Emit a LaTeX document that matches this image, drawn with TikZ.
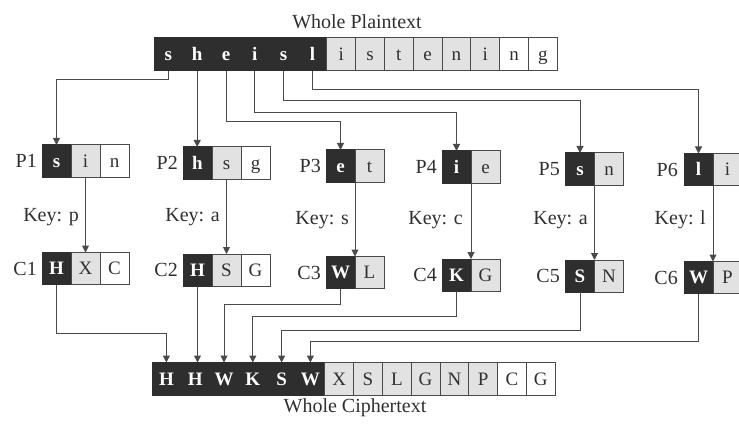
\documentclass[tikz,border=0pt]{standalone}
\usepackage{fontspec}
\setmainfont{Liberation Serif}
\usetikzlibrary{arrows.meta}

\definecolor{cellblack}{HTML}{2E2E2E}
\definecolor{cellgrey}{HTML}{E2E2E2}
\definecolor{linegray}{HTML}{4A4A4A}
\definecolor{inkgray}{HTML}{303030}

\tikzset{
    cellbox/.style={draw=linegray, line width=1pt, minimum width=28.8pt, minimum height=33pt,
        inner sep=0pt, outer sep=0pt, text height=12.6pt, text depth=0pt,
        font=\fontsize{19}{20}\selectfont, text=inkgray},
    darkcell/.style={cellbox, fill=cellblack, draw=cellblack, text=white,
        font=\bfseries\fontsize{19}{20}\selectfont},
    greycell/.style={cellbox, fill=cellgrey},
    whitecell/.style={cellbox, fill=white},
    tag/.style={font=\fontsize{20}{22}\selectfont, text=inkgray, inner sep=0pt},
    link/.style={draw=linegray, line width=1pt, -{Triangle[length=7pt,width=7pt]}}
}

\begin{document}
\begin{tikzpicture}[x=1pt, y=-1pt]
            \useasboundingbox (0,0) rectangle (739,425);

            \node (ptitle) at (357,22) [tag] {Whole Plaintext};
            \node (pt1) at (168.4,54.5) [darkcell] {s};
            \node (pt2) at (197.2,54.5) [darkcell] {h};
            \node (pt3) at (226.0,54.5) [darkcell] {e};
            \node (pt4) at (254.8,54.5) [darkcell] {i};
            \node (pt5) at (283.6,54.5) [darkcell] {s};
            \node (pt6) at (312.4,54.5) [darkcell] {l};
            \node (pt7) at (341.2,54.5) [greycell] {i};
            \node (pt8) at (370.0,54.5) [greycell] {s};
            \node (pt9) at (398.8,54.5) [greycell] {t};
            \node (pt10) at (427.6,54.5) [greycell] {e};
            \node (pt11) at (456.4,54.5) [greycell] {n};
            \node (pt12) at (485.2,54.5) [greycell] {i};
            \node (pt13) at (514.0,54.5) [whitecell] {n};
            \node (pt14) at (542.8,54.5) [whitecell] {g};

            \node (p1a) at (56.5,161) [darkcell, minimum width=29pt, minimum height=32pt] {s};
            \node (p1b) at (85.5,161) [greycell, minimum width=29pt, minimum height=32pt] {i};
            \node (p1c) at (114.5,161) [whitecell, minimum width=29pt, minimum height=32pt] {n};
            \node (lp1) at (37,161) [tag, anchor=east] {P1};
            \node (p2a) at (197.5,163) [darkcell, minimum width=29pt, minimum height=32pt] {h};
            \node (p2b) at (226.5,163) [greycell, minimum width=29pt, minimum height=32pt] {s};
            \node (p2c) at (255.5,163) [whitecell, minimum width=29pt, minimum height=32pt] {g};
            \node (lp2) at (178,163) [tag, anchor=east] {P2};
            \node (p3a) at (340.5,166) [darkcell, minimum width=29pt, minimum height=32pt] {e};
            \node (p3b) at (369.5,166) [greycell, minimum width=29pt, minimum height=32pt] {t};
            \node (lp3) at (321,166) [tag, anchor=east] {P3};
            \node (p4a) at (456.5,167) [darkcell, minimum width=29pt, minimum height=32pt] {i};
            \node (p4b) at (485.5,167) [greycell, minimum width=29pt, minimum height=32pt] {e};
            \node (lp4) at (437,167) [tag, anchor=east] {P4};
            \node (p5a) at (580,169) [darkcell, minimum width=29pt, minimum height=32pt] {s};
            \node (p5b) at (609,169) [greycell, minimum width=29pt, minimum height=32pt] {n};
            \node (lp5) at (560,169) [tag, anchor=east] {P5};
            \node (p6a) at (698.5,169.5) [darkcell, minimum width=29pt, minimum height=32pt] {l};
            \node (p6b) at (727.5,169.5) [greycell, minimum width=29pt, minimum height=32pt] {i};
            \node (lp6) at (678,169.5) [tag, anchor=east] {P6};

            \node (k1) at (79,217) [tag, anchor=east] {Key: p};
            \node (k2) at (220,217) [tag, anchor=east] {Key: a};
            \node (k3) at (349,220) [tag, anchor=east] {Key: s};
            \node (k4) at (463,220) [tag, anchor=east] {Key: c};
            \node (k5) at (588,220) [tag, anchor=east] {Key: a};
            \node (k6) at (706,220) [tag, anchor=east] {Key: l};

            \node (c1a) at (56.5,268.5) [darkcell, minimum width=29pt, minimum height=32pt] {H};
            \node (c1b) at (85.5,268.5) [greycell, minimum width=29pt, minimum height=32pt] {X};
            \node (c1c) at (114.5,268.5) [whitecell, minimum width=29pt, minimum height=32pt] {C};
            \node (lc1) at (37,268.5) [tag, anchor=east] {C1};
            \node (c2a) at (197.5,270) [darkcell, minimum width=29pt, minimum height=32pt] {H};
            \node (c2b) at (226.5,270) [greycell, minimum width=29pt, minimum height=32pt] {S};
            \node (c2c) at (255.5,270) [whitecell, minimum width=29pt, minimum height=32pt] {G};
            \node (lc2) at (178,270) [tag, anchor=east] {C2};
            \node (c3a) at (340.5,272.5) [darkcell, minimum width=29pt, minimum height=32pt] {W};
            \node (c3b) at (369.5,272.5) [greycell, minimum width=29pt, minimum height=32pt] {L};
            \node (lc3) at (321,272.5) [tag, anchor=east] {C3};
            \node (c4a) at (456.5,275) [darkcell, minimum width=29pt, minimum height=32pt] {K};
            \node (c4b) at (485.5,275) [greycell, minimum width=29pt, minimum height=32pt] {G};
            \node (lc4) at (437,275) [tag, anchor=east] {C4};
            \node (c5a) at (580,276) [darkcell, minimum width=29pt, minimum height=32pt] {S};
            \node (c5b) at (609,276) [greycell, minimum width=29pt, minimum height=32pt] {N};
            \node (lc5) at (560,276) [tag, anchor=east] {C5};
            \node (c6a) at (698.5,277.5) [darkcell, minimum width=29pt, minimum height=32pt] {W};
            \node (c6b) at (727.5,277.5) [greycell, minimum width=29pt, minimum height=32pt] {P};
            \node (lc6) at (678,277.5) [tag, anchor=east] {C6};

            \node (ct1) at (166.4,379) [darkcell] {H};
            \node (ct2) at (195.2,379) [darkcell] {H};
            \node (ct3) at (224.0,379) [darkcell] {W};
            \node (ct4) at (252.8,379) [darkcell] {K};
            \node (ct5) at (281.6,379) [darkcell] {S};
            \node (ct6) at (310.4,379) [darkcell] {W};
            \node (ct7) at (339.2,379) [greycell] {X};
            \node (ct8) at (368.0,379) [greycell] {S};
            \node (ct9) at (396.8,379) [greycell] {L};
            \node (ct10) at (425.6,379) [greycell] {G};
            \node (ct11) at (454.4,379) [greycell] {N};
            \node (ct12) at (483.2,379) [greycell] {P};
            \node (ct13) at (512.0,379) [whitecell] {C};
            \node (ct14) at (540.8,379) [whitecell] {G};
            \node (ctitle) at (355,408) [tag] {Whole Ciphertext};

            \draw [link] (pt1.south) -- ++(0,9) -| (p1a.north);
            \draw [link] (pt2.south) -- (pt2.south |- p2a.north);
            \draw [link] (pt3.south) -- ++(0,51) -| (p3a.north);
            \draw [link] (pt4.south) -- ++(0,42) -| (p4a.north);
            \draw [link] (pt5.south) -- ++(0,30) -| (p5a.north);
            \draw [link] (pt6.south) -- ++(0,19) -| (p6a.north);

            \draw [link] (p1b.south) -- (c1b.north);
            \draw [link] (p2b.south) -- (c2b.north);
            \draw [link] (p3a.south east) -- (c3a.north east);
            \draw [link] (p4a.south east) -- (c4a.north east);
            \draw [link] (p5a.south east) -- (c5a.north east);
            \draw [link] (p6a.south east) -- (c6a.north east);

            \draw [link] (c1a.south) -- ++(0,49) -| (ct1.north);
            \draw [link] (c2a.south) -- (c2a.south |- ct2.north);
            \draw [link] (c3a.south) -- ++(0,16) -| (ct3.north);
            \draw [link] (c4a.south) -- ++(0,25) -| (ct4.north);
            \draw [link] (c5a.south) -- ++(0,38) -| (ct5.north);
            \draw [link] (c6a.south) -- ++(0,48) -| (ct6.north);
        \end{tikzpicture}
\end{document}
